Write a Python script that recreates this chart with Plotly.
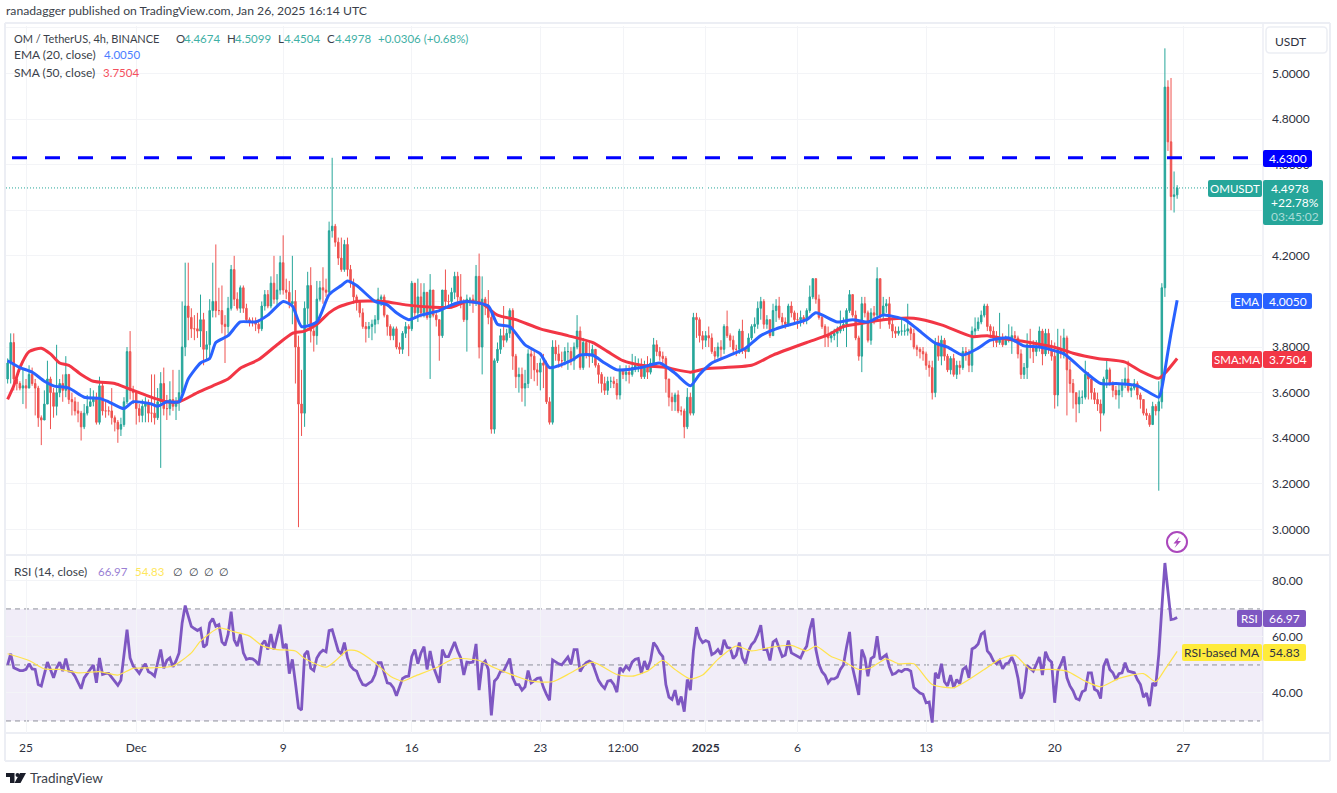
import pandas as pd
import plotly.graph_objects as go

FONT = "Lato, 'Liberation Sans', sans-serif"
W, H = 1337, 793
UP, DOWN = "#26a69a", "#ef5350"
TXT = "#3b3f4a"

first_open = 3.66
closes = [
3.73,3.82,3.66,3.64,3.62,3.63, 3.62,3.68,3.64,3.62,3.49,3.48, 3.55,3.66,3.60,3.54,3.60,3.64,
3.61,3.68,3.57,3.56,3.52,3.51, 3.45,3.51,3.54,3.56,3.58,3.47, 3.63,3.52,3.52,3.52,3.49,3.47,
3.44,3.46,3.56,3.78,3.61,3.60, 3.53,3.50,3.54,3.55,3.51,3.51, 3.49,3.56,3.64,3.53,3.53,3.57,
3.54,3.56,3.60,3.80,3.98,3.93, 3.88,3.88,3.87,3.92,3.79,3.81, 3.96,4.00,3.96,3.96,3.90,3.89,
3.97,4.14,4.01,3.97,4.06,3.97, 3.92,3.91,3.91,3.90,3.88,3.98, 4.03,3.98,4.08,4.01,4.05,4.17,
4.05,4.04,3.99,4.00,3.80,3.55, 3.51,3.97,4.07,3.87,3.85,4.01, 4.06,4.05,4.04,4.31,4.33,4.26,
4.19,4.14,4.25,4.14,4.08,4.02, 4.00,3.95,3.89,3.88,3.89,3.90, 3.92,4.01,4.02,3.94,3.89,3.85,
3.88,3.80,3.79,3.86,3.89,3.88, 4.08,3.95,4.02,3.95,4.04,3.93, 4.05,3.94,3.92,3.85,4.05,4.00,
4.00,4.04,4.11,4.02,3.99,3.92, 4.01,4.01,4.00,4.11,3.80,4.01, 3.98,3.93,3.44,3.74,3.79,3.85,
3.83,3.86,3.96,3.76,3.67,3.68, 3.62,3.64,3.77,3.76,3.70,3.69, 3.73,3.72,3.56,3.47,3.80,3.77,
3.74,3.74,3.78,3.78,3.74,3.80, 3.87,3.71,3.82,3.77,3.76,3.79, 3.72,3.68,3.64,3.61,3.65,3.65,
3.64,3.59,3.70,3.68,3.69,3.68, 3.71,3.72,3.72,3.67,3.72,3.69, 3.73,3.81,3.78,3.76,3.75,3.66,
3.58,3.56,3.59,3.52,3.52,3.45, 3.58,3.51,3.93,3.92,3.85,3.83, 3.85,3.84,3.78,3.76,3.80,3.79,
3.89,3.85,3.83,3.79,3.79,3.87, 3.79,3.78,3.84,3.89,3.90,3.97, 4.00,3.90,3.92,3.85,3.96,3.98,
3.93,3.91,3.90,3.98,3.95,3.92, 3.92,3.93,3.92,3.96,4.02,4.10, 4.01,3.93,3.89,3.85,3.84,3.85,
3.86,3.87,3.89,3.90,3.96,4.03, 3.94,3.84,3.76,3.99,3.95,3.83, 3.95,3.94,4.10,3.94,3.98,3.99,
3.90,3.87,3.86,3.87,3.87,3.87, 3.88,3.86,3.80,3.79,3.78,3.77, 3.72,3.71,3.60,3.82,3.76,3.83,
3.76,3.70,3.75,3.68,3.72,3.71, 3.78,3.77,3.72,3.87,3.88,3.91, 3.94,3.98,3.89,3.87,3.84,3.82,
3.84,3.81,3.83,3.84,3.85,3.84, 3.77,3.68,3.71,3.81,3.80,3.78, 3.80,3.87,3.77,3.86,3.79,3.76,
3.59,3.79,3.77,3.84,3.70,3.64, 3.60,3.55,3.58,3.58,3.68,3.66, 3.60,3.57,3.55,3.51,3.66,3.70,
3.64,3.61,3.59,3.61,3.64,3.66, 3.61,3.62,3.64,3.59,3.57,3.51, 3.50,3.46,3.54,3.52,3.56,4.06,
4.94,4.70,4.46,4.4674,4.4978]
highs = [
3.75,3.86,3.86,3.68,3.65,3.70, 3.66,3.72,3.71,3.66,3.63,3.50, 3.61,3.74,3.67,3.62,3.81,3.66,
3.68,3.76,3.68,3.60,3.58,3.56, 3.52,3.55,3.59,3.62,3.61,3.60, 3.67,3.65,3.56,3.54,3.62,3.50,
3.48,3.49,3.58,3.80,3.87,3.63, 3.58,3.55,3.57,3.58,3.57,3.68, 3.68,3.62,3.69,3.71,3.59,3.65,
3.70,3.58,3.70,4.00,4.17,4.17, 3.97,3.94,3.95,4.03,3.95,3.87, 4.01,4.17,4.25,4.06,4.07,3.94,
4.02,4.16,4.20,4.04,4.07,4.07, 3.99,3.93,3.93,3.93,3.92,4.00, 4.05,4.05,4.11,4.20,4.12,4.20,
4.29,4.10,4.09,4.20,4.05,3.85, 3.70,4.00,4.13,4.15,3.90,4.09, 4.09,4.15,4.10,4.35,4.63,4.34,
4.28,4.28,4.27,4.28,4.16,4.10, 4.03,3.98,3.97,3.91,3.91,3.92, 3.94,4.06,4.03,4.03,3.94,3.90,
3.89,3.89,3.82,3.87,3.91,3.90, 4.09,4.00,4.10,4.08,4.08,4.04, 4.12,4.05,3.96,3.92,4.05,4.14,
4.03,4.06,4.13,4.13,4.12,4.01, 4.03,4.02,4.03,4.16,4.21,4.11, 4.02,4.05,3.96,3.75,3.82,3.88,
3.98,3.88,3.97,3.97,3.77,3.71, 3.71,3.70,3.79,3.80,3.79,3.73, 3.75,3.77,3.74,3.58,3.83,3.83,
3.81,3.78,3.80,3.82,3.80,3.82, 3.94,3.89,3.84,3.83,3.83,3.81, 3.78,3.73,3.69,3.67,3.67,3.67,
3.67,3.66,3.72,3.70,3.72,3.72, 3.77,3.76,3.75,3.75,3.74,3.76, 3.75,3.84,3.83,3.80,3.78,3.76,
3.66,3.60,3.60,3.61,3.54,3.53, 3.62,3.60,3.95,3.95,3.93,3.87, 3.87,3.89,3.86,3.80,3.82,3.83,
3.90,3.96,3.86,3.85,3.81,3.88, 3.92,3.80,3.86,3.90,3.93,4.00, 4.02,4.01,3.94,3.92,3.99,4.01,
4.02,3.95,3.93,3.99,4.00,3.96, 3.95,3.96,3.94,3.97,4.07,4.10, 4.10,4.03,3.94,3.90,3.89,3.87,
3.88,3.89,3.96,3.93,3.97,4.05, 4.03,3.96,3.85,4.02,4.02,3.96, 3.97,3.98,4.15,4.10,4.02,4.01,
4.02,3.93,3.89,3.89,3.92,3.90, 3.99,3.89,3.88,3.81,3.80,3.80, 3.78,3.74,3.74,3.84,3.85,3.85,
3.84,3.77,3.76,3.77,3.74,3.74, 3.80,3.80,3.79,3.89,3.93,3.93, 3.96,3.99,3.99,3.90,3.89,3.87,
3.95,3.86,3.85,3.90,3.89,3.87, 3.85,3.79,3.73,3.86,3.88,3.83, 3.83,3.89,3.88,3.88,3.88,3.83,
3.82,3.88,3.85,3.88,3.85,3.74, 3.66,3.60,3.61,3.61,3.74,3.69, 3.66,3.62,3.60,3.57,3.67,3.74,
3.71,3.65,3.63,3.64,3.66,3.71, 3.74,3.63,3.66,3.65,3.60,3.57, 3.53,3.51,3.56,3.55,3.65,4.08,
5.11,4.97,4.98,4.57,4.5099]
lows = [
3.64,3.64,3.61,3.61,3.61,3.55, 3.53,3.63,3.63,3.50,3.45,3.37, 3.48,3.55,3.44,3.49,3.50,3.58,
3.56,3.58,3.55,3.50,3.50,3.47, 3.39,3.44,3.50,3.54,3.54,3.46, 3.46,3.50,3.49,3.50,3.46,3.43,
3.38,3.41,3.45,3.55,3.57,3.55, 3.46,3.47,3.47,3.47,3.47,3.47, 3.46,3.48,3.27,3.50,3.48,3.50,
3.52,3.48,3.52,3.58,3.76,3.83, 3.84,3.83,3.84,3.80,3.72,3.74, 3.75,3.93,3.93,3.94,3.86,3.73,
3.86,3.96,3.98,3.96,3.95,3.95, 3.91,3.89,3.89,3.87,3.86,3.87, 3.96,3.97,3.97,3.99,3.98,4.03,
4.03,4.01,3.97,3.90,3.64,3.01, 3.41,3.45,3.90,3.82,3.78,3.81, 4.00,3.99,4.02,4.04,4.28,4.24,
4.16,4.13,4.13,4.11,4.06,3.99, 3.96,3.93,3.88,3.82,3.84,3.83, 3.86,3.90,3.98,3.93,3.85,3.83,
3.83,3.79,3.77,3.77,3.84,3.76, 3.87,3.93,3.91,3.93,3.93,3.92, 3.66,3.93,3.89,3.74,3.84,3.98,
3.98,3.98,4.01,3.99,3.97,3.91, 3.78,3.98,3.95,3.98,3.75,3.68, 3.94,3.90,3.42,3.42,3.73,3.77,
3.80,3.82,3.84,3.70,3.62,3.60, 3.56,3.54,3.62,3.66,3.65,3.63, 3.61,3.62,3.55,3.46,3.46,3.74,
3.71,3.71,3.72,3.70,3.72,3.70, 3.79,3.70,3.70,3.75,3.71,3.73, 3.71,3.64,3.60,3.59,3.59,3.62,
3.62,3.57,3.57,3.66,3.65,3.64, 3.67,3.69,3.69,3.66,3.66,3.66, 3.68,3.72,3.76,3.74,3.72,3.60,
3.54,3.52,3.52,3.51,3.50,3.40, 3.44,3.50,3.50,3.84,3.82,3.79, 3.80,3.80,3.77,3.74,3.75,3.75,
3.77,3.84,3.80,3.77,3.76,3.77, 3.77,3.75,3.78,3.83,3.86,3.88, 3.92,3.88,3.88,3.84,3.85,3.91,
3.92,3.89,3.88,3.89,3.93,3.90, 3.88,3.89,3.90,3.90,3.95,4.01, 3.99,3.92,3.88,3.80,3.80,3.82,
3.83,3.80,3.86,3.87,3.80,3.95, 3.93,3.83,3.74,3.69,3.93,3.82, 3.81,3.90,3.93,3.88,3.92,3.95,
3.88,3.84,3.84,3.85,3.85,3.85, 3.85,3.83,3.79,3.76,3.75,3.74, 3.70,3.67,3.57,3.58,3.74,3.72,
3.74,3.69,3.68,3.67,3.66,3.68, 3.70,3.74,3.69,3.69,3.84,3.87, 3.90,3.93,3.87,3.84,3.80,3.80,
3.81,3.80,3.81,3.82,3.77,3.82, 3.75,3.66,3.66,3.66,3.75,3.73, 3.76,3.78,3.72,3.76,3.77,3.74,
3.53,3.54,3.75,3.75,3.50,3.60, 3.53,3.47,3.51,3.55,3.57,3.57, 3.57,3.55,3.52,3.43,3.50,3.62,
3.63,3.58,3.57,3.53,3.58,3.62, 3.60,3.58,3.61,3.57,3.53,3.50, 3.48,3.45,3.46,3.50,3.17,3.53,
4.02,4.66,4.40,4.39,4.4504]

ema_bars = [0,4,8,12,15,20,25,30,33,38,41,47,49,52,56,59,63,66,68,72,76,81,85,90,93,96,101,105,109,
111,114,120,124,127,131,135,141,146,150,157,160,164,169,174,177,184,187,191,195,199,207,213,218,223,226,230,237,
241,246,251,256,261,264,271,276,281,286,293,297,303,307,312,317,321,327,332,337,345,352,357,362,369,376,377,379,380,382]
ema_vals = [3.74,3.71,3.69,3.65,3.63,3.62,3.58,3.575,3.56,3.53,3.56,3.55,3.54,3.56,3.56,3.66,3.73,3.75,3.82,3.85,3.91,3.91,3.94,4.00,3.98,3.89,3.91,4.03,4.07,
4.09,4.07,4.00,3.985,3.95,3.92,3.94,3.96,3.99,4.00,3.98,3.90,3.89,3.81,3.77,3.71,3.74,3.765,3.765,3.73,3.70,3.71,3.73,3.685,3.63,3.68,3.73,3.77,
3.795,3.85,3.88,3.90,3.92,3.95,3.91,3.92,3.91,3.94,3.92,3.88,3.817,3.80,3.765,3.795,3.83,3.84,3.805,3.80,3.77,3.69,3.64,3.64,3.63,3.58,3.62,3.78,3.86,4.005]

sma_bars = [0,2,4,7,11,14,17,20,24,28,35,39,43,48,52,56,62,67,72,76,82,88,93,97,101,105,108,
114,123,130,139,145,150,155,160,166,174,183,191,196,201,207,215,223,228,
243,250,261,268,273,277,286,296,305,315,320,324,332,343,348,356,365,370,376,378,382]
sma_vals = [3.57,3.63,3.71,3.78,3.795,3.77,3.73,3.72,3.68,3.65,3.64,3.62,3.60,3.575,3.56,3.56,3.60,3.63,3.66,3.707,3.745,3.81,3.86,3.87,3.90,3.95,3.975,
4.00,4.00,3.985,3.975,3.975,4.00,3.99,3.94,3.92,3.88,3.85,3.82,3.78,3.74,3.72,3.71,3.69,3.705,
3.72,3.765,3.82,3.853,3.89,3.90,3.92,3.926,3.897,3.846,3.85,3.84,3.824,3.795,3.773,3.75,3.734,3.695,3.663,3.685,3.75]

rsi_vals = [
50,54,49,48.6,48,48,48.4,50.4,48.6,48.4, 43,42.5,46.6,51,48.4,45.4,49,51,47.8,52.3,
47.8,47.6,46,44,41.5,45.4,47,48.4,50,43.6, 52.5,46.6,47,47,45.7,44.2,42.7,44.5,53.7,62.6,
52.5,49.6,48.4,47,49,50.4,47.6,47,46,50.8, 55.5,48.8,51.6,52.5,49.3,51.4,54.3,65,71.2,67.4,
63.8,63,62.3,63,56.3,57.3,65,66.6,63.8,64.4, 58.2,57,60.9,69,59,56.7,60.9,54.3,52,52.3,
52.2,51.4,50,57.3,58.7,55.5,61,55.5,59.7,64.4, 56,57.5,46.9,52,43.6,34.7,33.9,53.7,55,48.8,
48,52.5,54.3,55.3,54.7,62.3,62.6,58.7,55,54, 58,52.5,49.6,48.4,47.8,45,43,42.7,43.6,44.2,
46.6,50.8,50.8,47.4,43.6,43.3,41.9,39,42.5,45.2, 45.8,46,53,55.5,50.4,54.3,56.5,48.4,55,49.6,
46.6,43.6,55.5,53,53,55.5,58.2,55,52.5,46.4, 51,50.8,51,57.5,41,50.4,51.4,48.4,32,44.2,
45.4,47.8,47.8,50,52.3,45.4,43,43,41,42.2, 48,43.6,44.5,45.2,45.4,42,39.5,37.4,51.8,51,
50.4,50,51.4,52.8,50.2,55.5,55.5,47.6,49.6,50.8, 51.4,50.8,47.6,44.5,42.8,41.6,44.2,44.5,43,40.3,
49,47.8,49.6,48.4,51,52,52.3,47,51.4,48.4, 51.6,58,56.5,54.3,53,43,38.5,37.7,41,35.7,
38.7,33.3,44.8,41,55,63.5,59.7,58,58.7,58.2, 53.7,54.3,55.5,53.7,59,56.3,56,52.3,53.5,58,
52.5,50.5,55,57.3,58.5,60.9,64.2,55.5,55.5,51.6, 58.2,59,56,53,53.5,58.7,54.3,53.7,53,52.5,
55,56.7,62.6,66.6,55.5,50.2,47.6,46.3,43.6,45, 45,45.7,48.4,50,56.3,61.8,49,43.6,39.3,55.5,
52.5,46,52.3,53,60.3,52,53,53.7,49.3,46.6, 47,48,47.6,48.4,48.4,47.8,41.9,41,40,39.5,
36.5,36.8,29.4,47.2,45.2,50.4,44,42.5,46.4,41.9, 44.8,43.3,48.4,49.3,45.4,55.7,56.3,57.5,61,61.8,
55,53.7,51.4,50.4,51.6,48.6,50.4,50.8,52.8,50.2, 45.4,38,40.4,49.8,48.8,47.8,50.2,52.8,46.4,54.7,
52,51,36.5,47.8,50.2,53,45.4,42.5,40.7,38, 37.5,40.4,41,47.2,47.2,41.3,40.7,38,49.6,52.2,
48.4,47.2,44.8,46.9,47.2,50.8,47.8,47.6,47.2,44.8, 43,38.5,40,35.3,43.6,42.5,53.7,70.3,86.4,76.3,
66.2,66.4,66.97]

rsi_ma_bars = [0,7,12,17,23,30,36,41,48,54,60,63,69,74,79,83,88,94,97,104,107,111,114,120,125,129,133,140,146,154,159,166,171,178,184,191,199,
204,209,214,218,223,227,232,238,243,249,256,261,264,269,273,278,282,287,291,296,302,309,314,319,324,329,334,340,346,352,357,363,371,375,378,382]
rsi_ma_vals = [54,51.6,48.6,48.4,47.2,47.6,46.4,48.8,49,49.6,54.3,58.5,63.2,61.8,60.3,57,55.5,55,52.3,49.2,51.4,55.2,55,50.8,46,44.2,46,49,52.3,51.6,49,46,44.2,44,47.2,51,46.6,
46,47.8,51.6,48.4,45,46.4,52,56.7,55,56.3,57,55,56.7,53,51.3,48.4,49,52.2,50.4,50.4,43,41.9,44.8,48.4,52,53.5,48.4,48.4,47.8,44.2,42.2,45.2,46.9,44,48.4,54.83]

price_ticks = [3.0,3.2,3.4,3.6,3.8,4.0,4.2,4.4,4.6,4.8,5.0,5.2]
price_tick_text = ["3.0000","3.2000","3.4000","3.6000","3.8000","","4.2000","","4.6000","4.8000","5.0000",""]
rsi_ticks = [40,60,80]
rsi_tick_text = ["40.00","60.00","80.00"]
date_ticks = ["2024-11-25","2024-12-01","2024-12-09","2024-12-16","2024-12-23","2024-12-27 12:00","2025-01-01","2025-01-06","2025-01-13","2025-01-20","2025-01-27"]
date_tick_text = ["25","Dec","9","16","23","12:00","<b>2025</b>","6","13","20","27"]
resistance_level = 4.63
last_price = 4.4978
rsi_levels = [70, 50, 30]

bars = pd.date_range("2024-11-24", periods=len(closes), freq="4h")
opens = [first_open] + closes[:-1]

def fx(x): return x / W
def fy(y): return 1 - y / H

fig = go.Figure()
fig.add_trace(go.Candlestick(x=bars, open=opens, high=highs, low=lows, close=closes,
    increasing=dict(line=dict(color=UP, width=1), fillcolor=UP),
    decreasing=dict(line=dict(color=DOWN, width=1), fillcolor=DOWN),
    xaxis="x", yaxis="y", showlegend=False))
fig.add_trace(go.Scatter(x=bars[sma_bars], y=sma_vals, mode="lines", xaxis="x", yaxis="y",
    line=dict(color="#f23645", width=3, shape="spline", smoothing=0.6), showlegend=False))
fig.add_trace(go.Scatter(x=bars[ema_bars], y=ema_vals, mode="lines", xaxis="x", yaxis="y",
    line=dict(color="#2962ff", width=3, shape="spline", smoothing=0.6), showlegend=False))
fig.add_trace(go.Scatter(x=bars, y=rsi_vals, mode="lines", xaxis="x2", yaxis="y2",
    line=dict(color="#7e57c2", width=2.8), showlegend=False))
fig.add_trace(go.Scatter(x=bars[rsi_ma_bars], y=rsi_ma_vals, mode="lines", xaxis="x2", yaxis="y2",
    line=dict(color="#ffe34d", width=1.2, shape="spline", smoothing=0.6), showlegend=False))

GRID = "#f3f4f7"
xr = ["2024-11-23 21:52", "2025-01-31 08:10"]
xdom = [fx(6), fx(1263)]
xcommon = dict(range=xr, domain=xdom, type="date", showgrid=True, gridcolor=GRID, gridwidth=1,
               tickmode="array", tickvals=date_ticks, zeroline=False, showline=False, ticks="",
               rangeslider=dict(visible=False))
ycommon = dict(side="right", showgrid=True, gridcolor=GRID, gridwidth=1, zeroline=False,
               showline=False, ticks="", ticklabelstandoff=8,
               tickfont=dict(family=FONT, size=12, color="#2e3140"), tickmode="array")

layout = dict(
    width=W, height=H, margin=dict(l=0, r=0, t=0, b=0, pad=0), paper_bgcolor="white", plot_bgcolor="white",
    font=dict(family=FONT, color=TXT, size=12), hovermode=False, showlegend=False,
    xaxis=dict(xcommon, anchor="y", showticklabels=False, ticktext=date_tick_text),
    xaxis2=dict(xcommon, anchor="y2", matches="x", showticklabels=True, ticktext=date_tick_text,
                ticklabelstandoff=6, tickfont=dict(family=FONT, size=12, color="#2e3140")),
    yaxis=dict(ycommon, domain=[fy(555), fy(26)], range=[2.888, 5.208], anchor="x",
               tickvals=price_ticks, ticktext=price_tick_text),
    yaxis2=dict(ycommon, domain=[fy(733), fy(556)], range=[25.7, 88.9], anchor="x2",
                tickvals=rsi_ticks, ticktext=rsi_tick_text),
)

shapes = []
annos = []

def rbox(x0, y0, x1, y1, color, r=2, line=None):
    X0, X1 = fx(x0), fx(x1)
    Y0, Y1 = fy(y0), fy(y1)
    rx, ry = r / W, r / H
    path = (f"M {X0+rx},{Y0} L {X1-rx},{Y0} Q {X1},{Y0} {X1},{Y0-ry} L {X1},{Y1+ry} Q {X1},{Y1} {X1-rx},{Y1} "
            f"L {X0+rx},{Y1} Q {X0},{Y1} {X0},{Y1+ry} L {X0},{Y0-ry} Q {X0},{Y0} {X0+rx},{Y0} Z")
    shapes.append(dict(type="path", path=path, xref="paper", yref="paper", fillcolor=color,
                       line=dict(color=line or color, width=1.5 if line else 0), layer="above"))

def text(x, y, s, color=TXT, size=12, anchor="left"):
    annos.append(dict(x=fx(x), y=fy(y), xref="paper", yref="paper", text=s, showarrow=False,
                      xanchor=anchor, yanchor="middle", align=anchor, borderpad=0, borderwidth=0,
                      font=dict(family=FONT, size=size, color=color)))

FRAME = "#eceef4"
def hline(y, x0, x1, color=FRAME, width=2):
    shapes.append(dict(type="line", xref="paper", yref="paper", x0=fx(x0), x1=fx(x1), y0=fy(y), y1=fy(y),
                       line=dict(color=color, width=width), layer="below"))
def vline(x, y0, y1, color=FRAME, width=2):
    shapes.append(dict(type="line", xref="paper", yref="paper", x0=fx(x), x1=fx(x), y0=fy(y0), y1=fy(y1),
                       line=dict(color=color, width=width), layer="below"))

hline(23, 5, 1330); hline(761, 5, 1330); hline(555, 5, 1330); hline(733, 5, 1330)
vline(5, 23, 761); vline(1330, 23, 761); vline(1263, 23, 761, width=1.5)

# RSI band and levels
shapes.append(dict(type="rect", xref="paper", yref="y2", x0=fx(6), x1=fx(1263), y0=rsi_levels[2], y1=rsi_levels[0],
                   fillcolor="#7e57c2", opacity=0.11, line=dict(width=0), layer="below"))
for lv in rsi_levels:
    shapes.append(dict(type="line", xref="paper", yref="y2", x0=fx(6), x1=fx(1260), y0=lv, y1=lv,
                       line=dict(color="#8d909b", width=1, dash="5px,4px"), layer="below"))

# price lines
shapes.append(dict(type="line", xref="paper", yref="y", x0=fx(6), x1=fx(1208), y0=last_price, y1=last_price,
                   line=dict(color=UP, width=1, dash="1px,2px"), layer="below"))
shapes.append(dict(type="line", xref="paper", yref="y", x0=fx(12), x1=fx(1248), y0=resistance_level, y1=resistance_level,
                   line=dict(color="#0000ff", width=3, dash="15px,18px"), layer="above"))

# USDT button
rbox(1266, 27, 1327, 53, "white", r=4, line="#eceef4")
text(1275, 41, "USDT", "#2e3140", 12)

# right-hand labels
rbox(1263, 150, 1312, 167, "#0000ff")
text(1287.5, 158.5, "4.6300", "white", 12, "center")
rbox(1208, 180, 1262, 197, UP)
text(1235, 188.5, "OMUSDT", "white", 11.5, "center")
rbox(1263, 180, 1323, 225, UP)
text(1271, 188.5, "4.4978", "white", 12)
text(1271, 202.5, "+22.78%", "white", 12)
text(1271, 216.5, "03:45:02", "#a8dcd7", 12)
rbox(1231, 293, 1262, 309, "#2962ff")
text(1246.5, 301, "EMA", "white", 11.5, "center")
rbox(1263, 293, 1312, 309, "#2962ff")
text(1287.5, 301, "4.0050", "white", 12, "center")
rbox(1212, 351, 1262, 368, "#f23645")
text(1237, 359.5, "SMA:MA", "white", 11.5, "center")
rbox(1263, 351, 1312, 368, "#f23645")
text(1287.5, 359.5, "3.7504", "white", 12, "center")
rbox(1237, 610, 1262, 627, "#7e57c2")
text(1249.5, 618.5, "RSI", "white", 11.5, "center")
rbox(1263, 610, 1306, 627, "#7e57c2")
text(1284.5, 618.5, "66.97", "white", 12, "center")
rbox(1182, 644, 1262, 661, "#ffeb3b")
text(1222, 652.5, "RSI-based MA", "#2e3140", 12, "center")
rbox(1263, 644, 1306, 661, "#ffeb3b")
text(1284.5, 652.5, "54.83", "#2e3140", 12, "center")

# header text
text(6, 11, "ranadagger published on TradingView.com, Jan 26, 2025 16:14 UTC", "#3b3f4a", 12.2)
text(14, 38, "OM / TetherUS, 4h, BINANCE", TXT, 11)
GRN = "#3fb0a5"
for x, s, c in [(176, "O", TXT), (184, "4.4674", GRN), (227, "H", TXT), (235, "4.5099", GRN),
                (278, "L", TXT), (284, "4.4504", GRN), (327, "C", TXT), (335, "4.4978", GRN),
                (378, "+0.0306 (+0.68%)", GRN)]:
    text(x, 38, s, c, 11.5)
text(14, 55, "EMA (20, close)", TXT, 12)
text(104, 55, "4.0050", "#4b7dff", 11.5)
text(14, 72, "SMA (50, close)", TXT, 12)
text(103, 72, "3.7504", "#f4505e", 11.5)
text(14, 571, "RSI (14, close)", TXT, 12)
text(98, 571, "66.97", "#9a7fd4", 11.5)
text(135, 571, "54.83", "#ffe75c", 11.5)
for x in [173, 188.5, 203.6, 218.6]:
    text(x, 571, "∅", TXT, 11)

# lightning icon
MAG = "#ab47bc"
shapes.append(dict(type="circle", xref="paper", yref="paper", x0=fx(1167), x1=fx(1187), y0=fy(552), y1=fy(532),
                   fillcolor="white", line=dict(color=MAG, width=2), layer="above"))
pts = [(1179.5,536.5),(1173.5,543.5),(1176.8,543.5),(1174.5,548),(1181,541),(1177.5,541)]
shapes.append(dict(type="path", xref="paper", yref="paper",
                   path="M " + " L ".join(f"{fx(a)},{fy(b)}" for a, b in pts) + " Z",
                   fillcolor=MAG, line=dict(width=0), layer="above"))

# TradingView logo
DARK = "#1a1d29"
for poly in [[(6,773),(14.5,773),(14.5,783),(10,783),(10,777),(6,777)],
             [(20,773),(26,773),(20.5,783),(14.5,783)]]:
    shapes.append(dict(type="path", xref="paper", yref="paper",
                       path="M " + " L ".join(f"{fx(a)},{fy(b)}" for a, b in poly) + " Z",
                       fillcolor=DARK, line=dict(width=0), layer="above"))
shapes.append(dict(type="circle", xref="paper", yref="paper", x0=fx(15.5), x1=fx(19.5), y0=fy(777), y1=fy(773),
                   fillcolor=DARK, line=dict(width=0), layer="above"))
text(29.5, 778, "TradingView", "#3b3f4a", 13.5)

layout["shapes"] = shapes
layout["annotations"] = annos
fig.update_layout(**layout)
fig.write_html("out.html", post_script="document.body.style.margin='0';document.documentElement.style.overflow='hidden';",
               config=dict(displayModeBar=False))
